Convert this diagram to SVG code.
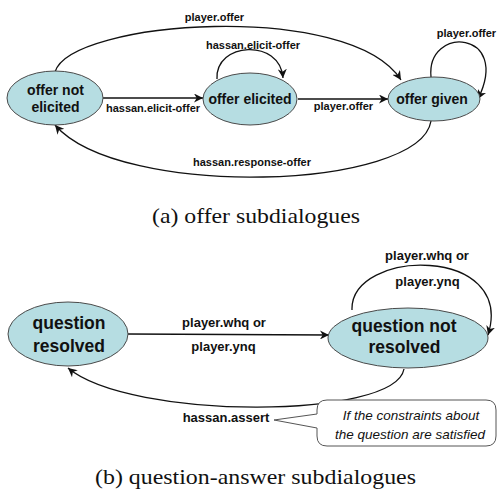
<svg xmlns="http://www.w3.org/2000/svg" width="498" height="494" viewBox="0 0 498 494">
  <style>
    .state { fill: #b6dde2; stroke: #4a4a4a; stroke-width: 1; }
    .name { font-family: "Liberation Sans", Arial, sans-serif; font-weight: bold; fill: #111; text-anchor: middle; }
    .edge { fill: none; stroke: #111; stroke-width: 1.3; marker-end: url(#arrow); }
    .lbl { font-family: "Liberation Sans", Arial, sans-serif; font-weight: bold; fill: #111; text-anchor: middle; }
    .cap { font-family: "Liberation Serif", "Times New Roman", serif; font-size: 21px; fill: #111; }
    .note { font-family: "Liberation Sans", Arial, sans-serif; font-style: italic; font-size: 13.5px; fill: #111; text-anchor: middle; }
  </style>
  <defs>
    <marker id="arrow" markerUnits="userSpaceOnUse" markerWidth="9" markerHeight="9" viewBox="0 0 10 10" refX="10" refY="5" orient="auto">
      <path d="M0,0 L10,5 L0,10 L3,5 z" fill="#111"/>
    </marker>
  </defs>
  <rect width="498" height="494" fill="#fff"/>

  <!-- (a) offer subdialogues -->
  <g id="edges-a">
    <path class="edge" d="M103,98 L203,98"/>
    <path class="edge" d="M55,72 C70,20 350,0 401,80"/>
    <path class="edge" d="M217,79 C215,42 280,38 283,78"/>
    <path class="edge" d="M298,99 L388,99"/>
    <path class="edge" d="M431,77 C426,25 512,30 478,99"/>
    <path class="edge" d="M431,121 C420,190 120,200 55,125"/>
    <text class="lbl" font-size="11" x="214.5" y="21">player.offer</text>
    <text class="lbl" font-size="11" x="253" y="49">hassan.elicit-offer</text>
    <text class="lbl" font-size="11" x="153" y="112">hassan.elicit-offer</text>
    <text class="lbl" font-size="11" x="343.5" y="110">player.offer</text>
    <text class="lbl" font-size="11" x="466.5" y="37">player.offer</text>
    <text class="lbl" font-size="11" x="252" y="166">hassan.response-offer</text>
  </g>
  <g id="offer-not-elicited">
    <ellipse class="state" cx="55" cy="98" rx="48" ry="27"/>
    <text class="name" font-size="14" x="55.5" y="95">offer not</text>
    <text class="name" font-size="14" x="55.5" y="112">elicited</text>
  </g>
  <g id="offer-elicited">
    <ellipse class="state" cx="250" cy="99" rx="47" ry="26"/>
    <text class="name" font-size="14" x="250" y="104">offer elicited</text>
  </g>
  <g id="offer-given">
    <ellipse class="state" cx="434" cy="99" rx="46" ry="22"/>
    <text class="name" font-size="14" x="432" y="104">offer given</text>
  </g>
  <text class="cap" x="152" y="223" textLength="208" lengthAdjust="spacingAndGlyphs">(a) offer subdialogues</text>

  <!-- (b) question-answer subdialogues -->
  <g id="edges-b">
    <path class="edge" d="M128,334 L329,335"/>
    <path class="edge" d="M352,310 C350,248 516,245 488,335"/>
    <path class="edge" d="M404,369 C395,420 130,420 68,368"/>
    <text class="lbl" font-size="13" x="224" y="327">player.whq or</text>
    <text class="lbl" font-size="13" x="223.5" y="351">player.ynq</text>
    <text class="lbl" font-size="13" x="427" y="260">player.whq or</text>
    <text class="lbl" font-size="13" x="427.5" y="286">player.ynq</text>
    <text class="lbl" font-size="13" x="226" y="422">hassan.assert</text>
  </g>
  <g id="question-resolved">
    <ellipse class="state" cx="68" cy="334" rx="60" ry="32"/>
    <text class="name" font-size="17.5" x="69" y="329">question</text>
    <text class="name" font-size="17.5" x="69" y="352">resolved</text>
  </g>
  <g id="question-not-resolved">
    <ellipse class="state" cx="408" cy="338" rx="80" ry="30"/>
    <text class="name" font-size="17.5" x="404" y="332">question not</text>
    <text class="name" font-size="17.5" x="404.5" y="353">resolved</text>
  </g>
  <g id="condition-note">
    <path d="M327,400 L486,400 Q496,400 496,410 L496,436 Q496,446 486,446 L327,446 Q317,446 317,436 L317,428 L274,420 L317,414 L317,410 Q317,400 327,400 Z" fill="#fff" stroke="#555" stroke-width="1"/>
    <text class="note" x="411" y="420">If the constraints about</text>
    <text class="note" x="410" y="439">the question are satisfied</text>
  </g>
  <text class="cap" x="95" y="484" textLength="321" lengthAdjust="spacingAndGlyphs">(b) question-answer subdialogues</text>
</svg>
